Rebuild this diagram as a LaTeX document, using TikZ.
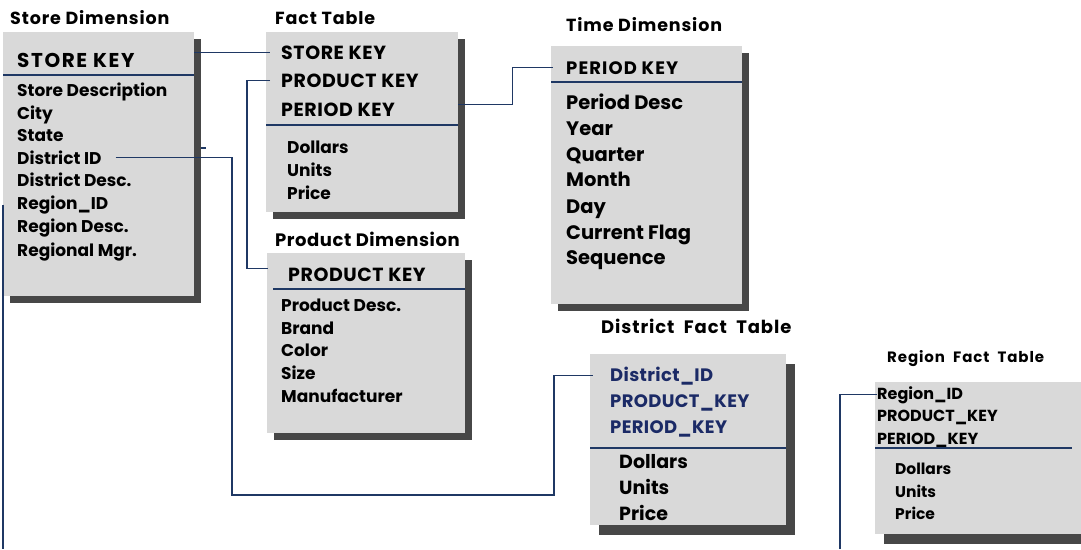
\documentclass[tikz,border=0pt]{standalone}
\usepackage{fontspec}
\setmainfont{Poppins}
\usetikzlibrary{shadows, positioning}
\definecolor{boxgray}{HTML}{D9D9D9}
\definecolor{shadowgray}{HTML}{474747}
\definecolor{navy}{HTML}{1F3864}
\definecolor{keyblue}{HTML}{1B2A66}
\newcommand{\fsz}[2]{\fontsize{#2}{#2}\selectfont\bfseries\addfontfeatures{LetterSpace=#1}}
\tikzset{
    tbl/.style={fill=boxgray, draw=none, inner sep=0pt, anchor=north west},
    shade7/.style={drop shadow={shadow xshift=7pt, shadow yshift=-7pt, fill=shadowgray, opacity=1}},
    shade9/.style={drop shadow={shadow xshift=9pt, shadow yshift=-10pt, fill=shadowgray, opacity=1}},
    row/.style={anchor=base west, inner sep=0pt},
    link/.style={draw=navy, line width=1.2pt},
    sep/.style={draw=navy, line width=1.1pt}
}
\begin{document}
\begin{tikzpicture}[x=1pt, y=-1pt]
\useasboundingbox (0,0) rectangle (1081,549);
\coordinate (bottom) at (0,549);
% Boxes
\node (sdim) [tbl, shade7, minimum width=191pt, minimum height=264pt] at (3,32) {};
\node (fact) [tbl, shade7, minimum width=192pt, minimum height=180pt] at (266,32) {};
\node (tdim) [tbl, shade7, minimum width=191pt, minimum height=258pt] at (551,46) {};
\node (pdim) [tbl, shade7, minimum width=198pt, minimum height=180pt] at (267,253) {};
\node (dfact) [tbl, shade9, minimum width=196pt, minimum height=171pt] at (590,354) {};
\node (rfact) [tbl, shade9, minimum width=230pt, minimum height=152pt] at (875,382) {};

% Store Dimension
\node (stitle) [row, font=\fsz{5}{17.5}] at (10,24) {Store Dimension};
\node (skey) [row, font=\fsz{8}{20}] at (17,67) {STORE KEY};
\node (sdesc) [row, font=\fsz{0}{17}] at (17,96) {Store Description};
\node (scity) [row, font=\fsz{0}{17}] at (17,119) {City};
\node (sstate) [row, font=\fsz{0}{17}] at (17,141) {State};
\node (sdid) [row, font=\fsz{0}{17}] at (17,164) {District ID};
\node (sddesc) [row, font=\fsz{0}{17}] at (17,186) {District Desc.};
\node (srid) [row, font=\fsz{0}{17}] at (17,209) {Region\_ID};
\node (srdesc) [row, font=\fsz{0}{17}] at (17,232) {Region Desc.};
\node (smgr) [row, font=\fsz{0}{17}] at (17,256) {Regional Mgr.};

% Fact Table
\node (ftitle) [row, font=\fsz{5}{17.5}] at (275,24) {Fact Table};
\node (fskey) [row, font=\fsz{3}{19}] at (281,59) {STORE KEY};
\node (fpkey) [row, font=\fsz{3}{19}] at (281,87) {PRODUCT KEY};
\node (fperkey) [row, font=\fsz{3}{19}] at (281,116) {PERIOD KEY};
\node (fdol) [row, font=\fsz{0}{17}] at (287,153) {Dollars};
\node (funits) [row, font=\fsz{0}{17}] at (287,176) {Units};
\node (fprice) [row, font=\fsz{0}{17}] at (287,199) {Price};

% Time Dimension
\node (ttitle) [row, font=\fsz{5}{17.5}] at (566,31) {Time Dimension};
\node (tkey) [row, font=\fsz{6}{18}] at (566,74) {PERIOD KEY};
\node (tdesc) [row, font=\fsz{0}{19.5}] at (566,109) {Period Desc};
\node (tyear) [row, font=\fsz{0}{19.5}] at (566,135) {Year};
\node (tqtr) [row, font=\fsz{0}{19.5}] at (566,161) {Quarter};
\node (tmonth) [row, font=\fsz{0}{19.5}] at (566,186) {Month};
\node (tday) [row, font=\fsz{0}{19.5}] at (566,213) {Day};
\node (tflag) [row, font=\fsz{0}{19.5}] at (566,239) {Current Flag};
\node (tseq) [row, font=\fsz{0}{19.5}] at (566,264) {Sequence};

% Product Dimension
\node (ptitle) [row, font=\fsz{3}{18}] at (275,246) {Product Dimension};
\node (pkey) [row, font=\fsz{3}{19}] at (288,281) {PRODUCT KEY};
\node (pdesc) [row, font=\fsz{0}{17}] at (281,311) {Product Desc.};
\node (pbrand) [row, font=\fsz{0}{17}] at (281,334) {Brand};
\node (pcolor) [row, font=\fsz{0}{17}] at (281,356) {Color};
\node (psize) [row, font=\fsz{0}{17}] at (281,379) {Size};
\node (pmfr) [row, font=\fsz{0}{17}] at (281,402) {Manufacturer};

% District Fact Table
\node (dtitle) [row, font=\fsz{5}{18}] at (601,333) {District\ \ Fact\ \ Table};
\node (did) [row, font=\fsz{2}{18}, text=keyblue] at (610,381) {District\_ID};
\node (dpkey) [row, font=\fsz{2}{18}, text=keyblue] at (610,407) {PRODUCT\_KEY};
\node (dperkey) [row, font=\fsz{2}{18}, text=keyblue] at (610,433) {PERIOD\_KEY};
\node (ddol) [row, font=\fsz{0}{19}] at (619,468) {Dollars};
\node (dunits) [row, font=\fsz{0}{19}] at (619,494) {Units};
\node (dprice) [row, font=\fsz{0}{19}] at (619,520) {Price};

% Region Fact Table
\node (rtitle) [row, font=\fsz{6}{15}] at (887,362) {Region\ \ Fact\ \ Table};
\node (rid) [row, font=\fsz{0}{16}] at (877,399) {Region\_ID};
\node (rpkey) [row, font=\fsz{0}{16}] at (877,421) {PRODUCT\_KEY};
\node (rperkey) [row, font=\fsz{0}{16}] at (877,444) {PERIOD\_KEY};
\node (rdol) [row, font=\fsz{0}{15.5}] at (895,474) {Dollars};
\node (runits) [row, font=\fsz{0}{15.5}] at (895,497) {Units};
\node (rprice) [row, font=\fsz{0}{15.5}] at (895,519) {Price};

% Separators
\draw[sep] (sdim.west |- 0,75) -- (sdim.east |- 0,75);
\draw[sep] (fact.west |- 0,125) -- (fact.east |- 0,125);
\draw[sep] (tdim.west |- 0,82) -- (tdim.east |- 0,82);
\draw[sep] ([xshift=6pt]pdim.west |- 0,289) -- (pdim.east |- 0,289);
\draw[sep] (dfact.west |- 0,448) -- (dfact.east |- 0,448);
\draw[sep] (rfact.west |- 0,448) -- (1072,448);

% Links
\draw[link] (sdim.east |- fskey.west) -- ([xshift=-11pt]fskey.west);
\draw[link] ([xshift=-11pt]fpkey.west) -- ++(-23,0) |- ([xshift=-20pt,yshift=6pt]pkey.west);
\draw[link] ([yshift=5pt]fact.east |- fperkey.west) -- ++(54,0) |- ([xshift=-13pt]tkey.west);
\coordinate (dbend) at (232,495);
\draw[link] ([xshift=14pt]sdid.east) -- (sdid.east -| dbend) -- (dbend) -| ([xshift=-56pt]did.west) -- ([xshift=-17pt]did.west);
\coordinate (stub) at (201,148);
\draw[link] (stub) -- ++(5,0);
\draw[link] (sdim.west |- srid.west) -- (sdim.west |- bottom);
\draw[link] ([xshift=-37pt]rid.west |- bottom) |- (rid.west);
\end{tikzpicture}
\end{document}
